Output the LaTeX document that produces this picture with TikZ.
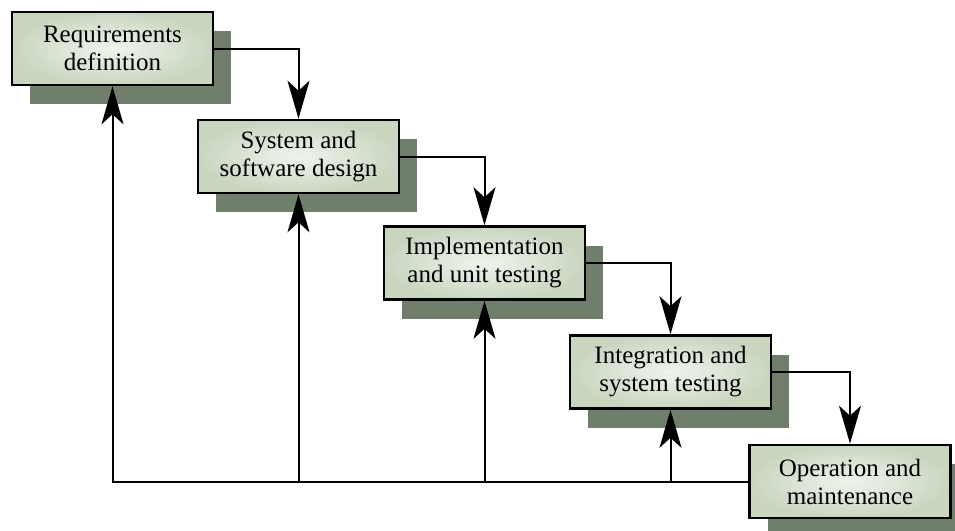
\documentclass[tikz,border=0pt]{standalone}
\usepackage{fontspec}
\setmainfont{Liberation Serif}
\usetikzlibrary{arrows.meta,shadows}

\definecolor{boxout}{RGB}{200,214,192}
\definecolor{boxin}{RGB}{240,244,236}
\definecolor{shadowgreen}{RGB}{112,126,108}

\tikzset{
  phase/.style={draw=black, line width=1.3pt, inner color=boxin, outer color=boxout,
    minimum width=100.5pt, minimum height=36.5pt, align=center,
    font=\fontsize{12.5}{14}\selectfont,
    drop shadow={shadow xshift=9pt, shadow yshift=-9.5pt, fill=shadowgreen, opacity=1}},
  flow/.style={line width=1pt, -{Stealth[length=19pt, width=11pt, inset=5pt]}}
}

\begin{document}
\begin{tikzpicture}[x=0.5pt, y=-0.5pt]
    \useasboundingbox (0, 0) rectangle (955, 531);

    \node[phase] (req) at (112.5, 48.5) {Requirements\\definition};
    \node[phase] (des) at (298.5, 156.5) {System and\\software design};
    \node[phase] (imp) at (484.5, 263) {Implementation\\and unit testing};
    \node[phase] (tst) at (670.5, 372) {Integration and\\system testing};
    \node[phase] (ops) at (850, 481.5) {Operation and\\maintenance};

    \draw[flow] (req.east) -| (des.north);
    \draw[flow] (des.east) -| (imp.north);
    \draw[flow] (imp.east) -| (tst.north);
    \draw[flow] (tst.east) -| (ops.north);

    \draw[flow] (ops.west) -| (req.south);
    \draw[flow] (des.south |- ops.west) -- (des.south);
    \draw[flow] (imp.south |- ops.west) -- (imp.south);
    \draw[flow] (tst.south |- ops.west) -- (tst.south);
\end{tikzpicture}
\end{document}
